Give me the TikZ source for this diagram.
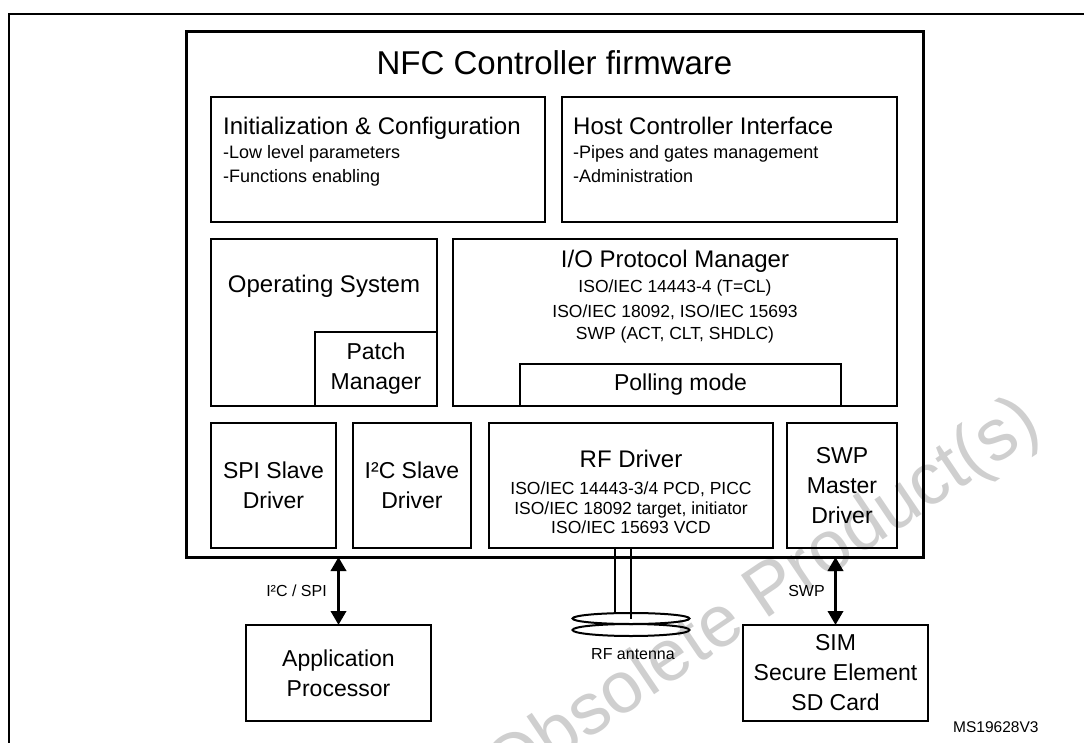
\documentclass[tikz,border=0pt]{standalone}
\usepackage{fontspec}
\setmainfont{Liberation Sans}
\usetikzlibrary{arrows.meta,shapes.geometric}

\begin{document}
\begin{tikzpicture}[x=1pt, y=-1pt,
  fwframe/.style = {draw, rectangle, line width=3pt, inner sep=0pt, outer sep=0pt, anchor=north west},
  module/.style = {draw, rectangle, line width=2pt, inner sep=0pt, outer sep=0pt, anchor=north west,
    align=center, font=\fontsize{23}{30}\selectfont},
  boxsize/.style 2 args = {minimum width=#1, minimum height=#2},
  titletext/.style = {anchor=base west, inner sep=0pt, font=\fontsize{24}{28}\selectfont},
  itemtext/.style = {anchor=base west, inner sep=0pt, font=\fontsize{18}{20}\selectfont},
  linetext/.style = {anchor=base, inner sep=0pt, font=\fontsize{17.5}{20}\selectfont},
  portlabel/.style = {inner sep=0pt, font=\fontsize{16}{20}\selectfont},
  biarrow/.style = {<->, >={Triangle[width=15pt,length=14pt]}, line width=3.5pt},
  coil/.style = {draw, ellipse, line width=2pt, inner sep=0pt, minimum width=117}]

\useasboundingbox (0,0) rectangle (1084,743);

\node (mark) [rotate=34, text=black!19, font=\fontsize{73}{80}\selectfont] at (764,598) {Obsolete Product(s)};

\draw[line width=2pt] (9,743) -- (9,14) -- (1084,14);

\node[fwframe, boxsize={737}{525}] (fw) at (186,32) {};
\node (title) [anchor=base, inner sep=0pt, font=\fontsize{33}{36}\selectfont] at (554.5,75) {NFC Controller firmware};

\node[module, boxsize={334}{125}] (init) at (211,97) {};
\node[titletext] (inithead) at (223,135) {Initialization \& Configuration};
\node[itemtext] (init1) at (223,159) {-Low level parameters};
\node[itemtext] (init2) at (223,183) {-Functions enabling};

\node[module, boxsize={335}{125}] (hci) at (562,97) {};
\node[titletext] (hcihead) at (573,135) {Host Controller Interface};
\node[itemtext] (hci1) at (573,159) {-Pipes and gates management};
\node[itemtext] (hci2) at (573,183) {-Administration};

\node[module, boxsize={226}{167}] (os) at (211,239) {};
\node[titletext, anchor=base] (oshead) at (324,293) {Operating System};
\node[module, boxsize={122}{74}] (patch) at (315,332) {Patch\\Manager};

\node[module, boxsize={444}{167}] (iopm) at (453,239) {};
\node[titletext, anchor=base] (iohead) at (675,268) {I/O Protocol Manager};
\node[linetext] (io1) at (675,293) {ISO/IEC 14443-4 (T=CL)};
\node[linetext] (io2) at (675,317) {ISO/IEC 18092, ISO/IEC 15693};
\node[linetext] (io3) at (675,339) {SWP (ACT, CLT, SHDLC)};
\node[module, boxsize={321}{42}] (poll) at (520,364) {Polling mode};

\node[module, boxsize={125}{125}] (spi) at (211,423) {SPI Slave\\Driver};
\node[module, boxsize={118}{125}] (i2c) at (353,423) {I²C Slave\\Driver};
\node[module, boxsize={284}{125}] (rf) at (489,423) {};
\node[titletext, anchor=base] (rfhead) at (631,467) {RF Driver};
\node[linetext] (rf1) at (631,494) {ISO/IEC 14443-3/4 PCD, PICC};
\node[linetext] (rf2) at (631,514) {ISO/IEC 18092 target, initiator};
\node[linetext] (rf3) at (631,533) {ISO/IEC 15693 VCD};
\node[module, boxsize={110}{125}] (swpm) at (787,423) {SWP\\Master\\Driver};

\node[module, boxsize={185}{96}] (app) at (246,625) {Application\\Processor};
\node[module, boxsize={185}{96}] (sim) at (743,625) {SIM\\Secure Element\\SD Card};

\draw[biarrow] (app.north) -- (app.north |- fw.south)
  node[midway, left=10pt, portlabel] (buslabel) {I²C / SPI};
\draw[biarrow] (sim.north) -- (sim.north |- fw.south)
  node[midway, left=9pt, portlabel] (swplabel) {SWP};

\node[coil, minimum height=12] (coilB) at (631,630) {};
\node[coil, minimum height=11] (coilA) at (631,618.5) {};
\draw[line width=2pt] (rf.south) -- (coilA.center);
\draw[line width=2pt] ([xshift=-16pt]rf.south) -- ([xshift=-16pt]coilA.north);
\node (antlabel) [anchor=base, inner sep=0pt, font=\fontsize{16}{20}\selectfont] at (633,659) {RF antenna};

\node (ref) [anchor=base west, inner sep=0pt, font=\fontsize{15.5}{18}\selectfont] at (953,732) {MS19628V3};

\end{tikzpicture}
\end{document}
